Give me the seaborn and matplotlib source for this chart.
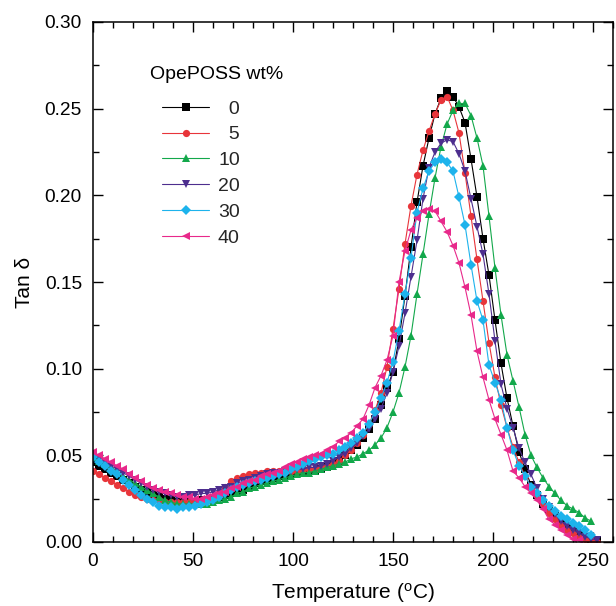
import matplotlib
matplotlib.use("Agg")
import matplotlib.pyplot as plt
import seaborn as sns
import pandas as pd
from matplotlib.ticker import MultipleLocator, FormatStrFormatter

# ---- data (temperature grid in degC, tan delta per series) ----
temperature = list(range(0, 253, 3))

tan_0 = [0.046, 0.044, 0.042, 0.040, 0.038, 0.036, 0.034, 0.032, 0.030, 0.029,
         0.027, 0.026, 0.025, 0.024, 0.023, 0.023, 0.023, 0.023, 0.024, 0.024,
         0.025, 0.026, 0.027, 0.028, 0.029, 0.030, 0.032, 0.034, 0.035, 0.036,
         0.037, 0.038, 0.038, 0.039, 0.040, 0.040, 0.041, 0.041, 0.042, 0.043,
         0.045, 0.047, 0.050, 0.053, 0.056, 0.060, 0.065, 0.071, 0.079, 0.089,
         0.098, 0.117, 0.142, 0.170, 0.196, 0.217, 0.233, 0.247, 0.256, 0.260,
         0.257, 0.251, 0.242, 0.221, 0.199, 0.175, 0.154, 0.128, 0.103, 0.083,
         0.067, 0.052, 0.042, 0.033, 0.027, 0.022, 0.019, 0.016, 0.012, 0.009,
         0.007, 0.005, 0.003, 0.002, 0.001]

tan_5 = [0.041, 0.039, 0.037, 0.035, 0.033, 0.031, 0.029, 0.027, 0.026, 0.025,
         0.024, 0.024, 0.023, 0.023, 0.023, 0.023, 0.023, 0.023, 0.023, 0.024,
         0.025, 0.028, 0.032, 0.035, 0.037, 0.038, 0.039, 0.040, 0.040, 0.041,
         0.041, 0.041, 0.041, 0.041, 0.041, 0.042, 0.042, 0.042, 0.043, 0.044,
         0.045, 0.047, 0.050, 0.053, 0.057, 0.062, 0.068, 0.076, 0.086, 0.101,
         0.123, 0.146, 0.172, 0.194, 0.212, 0.226, 0.237, 0.247, 0.255, 0.257,
         0.249, 0.236, 0.213, 0.188, 0.163, 0.139, 0.115, 0.095, 0.079, 0.066,
         0.055, 0.046, 0.038, 0.032, 0.027, 0.022, 0.017, 0.013, 0.010, 0.007,
         0.005, 0.003, 0.002, 0.001, 0.000]

tan_10 = [0.049, 0.047, 0.045, 0.043, 0.041, 0.038, 0.036, 0.034, 0.032, 0.030,
          0.028, 0.026, 0.024, 0.023, 0.022, 0.022, 0.022, 0.022, 0.022, 0.022,
          0.023, 0.024, 0.025, 0.026, 0.028, 0.029, 0.031, 0.032, 0.033, 0.034,
          0.035, 0.036, 0.037, 0.038, 0.039, 0.040, 0.040, 0.041, 0.042, 0.043,
          0.044, 0.045, 0.046, 0.048, 0.049, 0.051, 0.053, 0.056, 0.060, 0.066,
          0.075, 0.086, 0.101, 0.119, 0.143, 0.166, 0.189, 0.210, 0.228, 0.241,
          0.249, 0.253, 0.253, 0.246, 0.233, 0.217, 0.188, 0.158, 0.131, 0.108,
          0.093, 0.078, 0.062, 0.050, 0.043, 0.037, 0.032, 0.028, 0.024, 0.021,
          0.019, 0.017, 0.014, 0.012]

tan_20 = [0.050, 0.048, 0.046, 0.044, 0.042, 0.040, 0.038, 0.036, 0.034, 0.032,
          0.030, 0.029, 0.028, 0.027, 0.026, 0.026, 0.027, 0.027, 0.028, 0.028,
          0.029, 0.030, 0.031, 0.032, 0.034, 0.035, 0.036, 0.037, 0.038, 0.039,
          0.040, 0.040, 0.041, 0.041, 0.042, 0.042, 0.043, 0.043, 0.044, 0.045,
          0.047, 0.049, 0.051, 0.054, 0.057, 0.061, 0.065, 0.071, 0.077, 0.086,
          0.098, 0.113, 0.132, 0.153, 0.174, 0.198, 0.216, 0.225, 0.230, 0.232,
          0.231, 0.224, 0.214, 0.198, 0.182, 0.166, 0.143, 0.116, 0.091, 0.077,
          0.066, 0.054, 0.046, 0.039, 0.031, 0.025, 0.020, 0.016, 0.012, 0.009,
          0.007, 0.005, 0.003, 0.002, 0.001]

tan_30 = [0.049, 0.046, 0.044, 0.041, 0.039, 0.036, 0.033, 0.030, 0.027, 0.025,
          0.023, 0.021, 0.020, 0.020, 0.019, 0.020, 0.020, 0.021, 0.022, 0.023,
          0.024, 0.026, 0.028, 0.030, 0.032, 0.033, 0.034, 0.035, 0.036, 0.037,
          0.038, 0.039, 0.040, 0.042, 0.043, 0.045, 0.047, 0.048, 0.049, 0.050,
          0.051, 0.053, 0.055, 0.057, 0.060, 0.063, 0.068, 0.075, 0.083, 0.092,
          0.104, 0.122, 0.143, 0.164, 0.190, 0.204, 0.214, 0.219, 0.221, 0.219,
          0.214, 0.199, 0.183, 0.160, 0.139, 0.128, 0.102, 0.092, 0.082, 0.066,
          0.053, 0.044, 0.038, 0.032, 0.028, 0.024, 0.021, 0.018, 0.015, 0.013,
          0.011, 0.009, 0.007, 0.004]

tan_40 = [0.052, 0.050, 0.048, 0.046, 0.044, 0.042, 0.039, 0.037, 0.035, 0.033,
          0.031, 0.030, 0.029, 0.028, 0.027, 0.026, 0.026, 0.025, 0.025, 0.026,
          0.027, 0.028, 0.029, 0.031, 0.032, 0.034, 0.035, 0.036, 0.038, 0.039,
          0.040, 0.041, 0.043, 0.045, 0.046, 0.048, 0.049, 0.050, 0.051, 0.053,
          0.055, 0.058, 0.060, 0.063, 0.067, 0.071, 0.079, 0.089, 0.096, 0.105,
          0.119, 0.150, 0.168, 0.180, 0.187, 0.191, 0.192, 0.191, 0.185, 0.179,
          0.171, 0.161, 0.147, 0.131, 0.110, 0.095, 0.082, 0.071, 0.062, 0.053,
          0.041, 0.037, 0.032, 0.028, 0.024, 0.019, 0.013, 0.010, 0.007, 0.004,
          0.002, 0.001]

labels = ["0", "5", "10", "20", "30", "40"]
colors = ["#000000", "#e8353a", "#13a84b", "#4d2e8e", "#1db3ec", "#e8298b"]
markers = ["s", "o", "^", "v", "D", "<"]
marker_sizes = [5.2, 5.2, 5.4, 5.4, 4.8, 5.4]
series = [tan_0, tan_5, tan_10, tan_20, tan_30, tan_40]

# ---- style ----
sns.set_theme(style="ticks")
plt.rcParams["font.family"] = ["Liberation Sans", "DejaVu Sans"]
plt.rcParams["mathtext.default"] = "regular"
plt.rcParams["axes.linewidth"] = 1.1

fig = plt.figure(figsize=(6.16, 6.06), dpi=100)
ax = fig.add_axes([93 / 616, 1 - 542 / 606, 520 / 616, 520 / 606])

for lab, vals, col, mk, ms in zip(labels, series, colors, markers, marker_sizes):
    df = pd.DataFrame({"T": temperature[:len(vals)], "tan": vals})
    sns.lineplot(data=df, x="T", y="tan", ax=ax, color=col, marker=mk,
                 markersize=ms, markeredgewidth=0, linewidth=0.8,
                 errorbar=None, sort=False,
                 label=(lab if len(lab) == 2 else "\u2007" + lab))

ax.set_xlim(0, 260)
ax.set_ylim(0, 0.30)
ax.xaxis.set_major_locator(MultipleLocator(50))
ax.xaxis.set_minor_locator(MultipleLocator(10))
ax.yaxis.set_major_locator(MultipleLocator(0.05))
ax.yaxis.set_minor_locator(MultipleLocator(0.025))
ax.yaxis.set_major_formatter(FormatStrFormatter("%.2f"))
ax.tick_params(which="both", direction="in", top=True, right=True,
               colors="black", labelsize=13.8, width=1.0)
ax.tick_params(which="major", length=7, pad=8)
ax.tick_params(which="minor", length=4)
for sp in ax.spines.values():
    sp.set_color("black")

ax.set_xlabel("Temperature ($^{o}$C)", fontsize=15, labelpad=8, color="black")
ax.set_ylabel("Tan \u03b4", fontsize=15, labelpad=8, color="black")

leg = ax.legend(loc="upper left", bbox_to_anchor=((162 - 93) / 520, (542 - 100) / 520),
                frameon=False, fontsize=14, handlelength=2.42, handletextpad=0.46,
                labelspacing=0.42, borderpad=0, borderaxespad=0)
ax.text((150 - 93) / 520, (542 - 74) / 520, "OpePOSS wt%", transform=ax.transAxes,
        fontsize=14, ha="left", va="center", color="black")

fig.savefig("out.png", dpi=100)
